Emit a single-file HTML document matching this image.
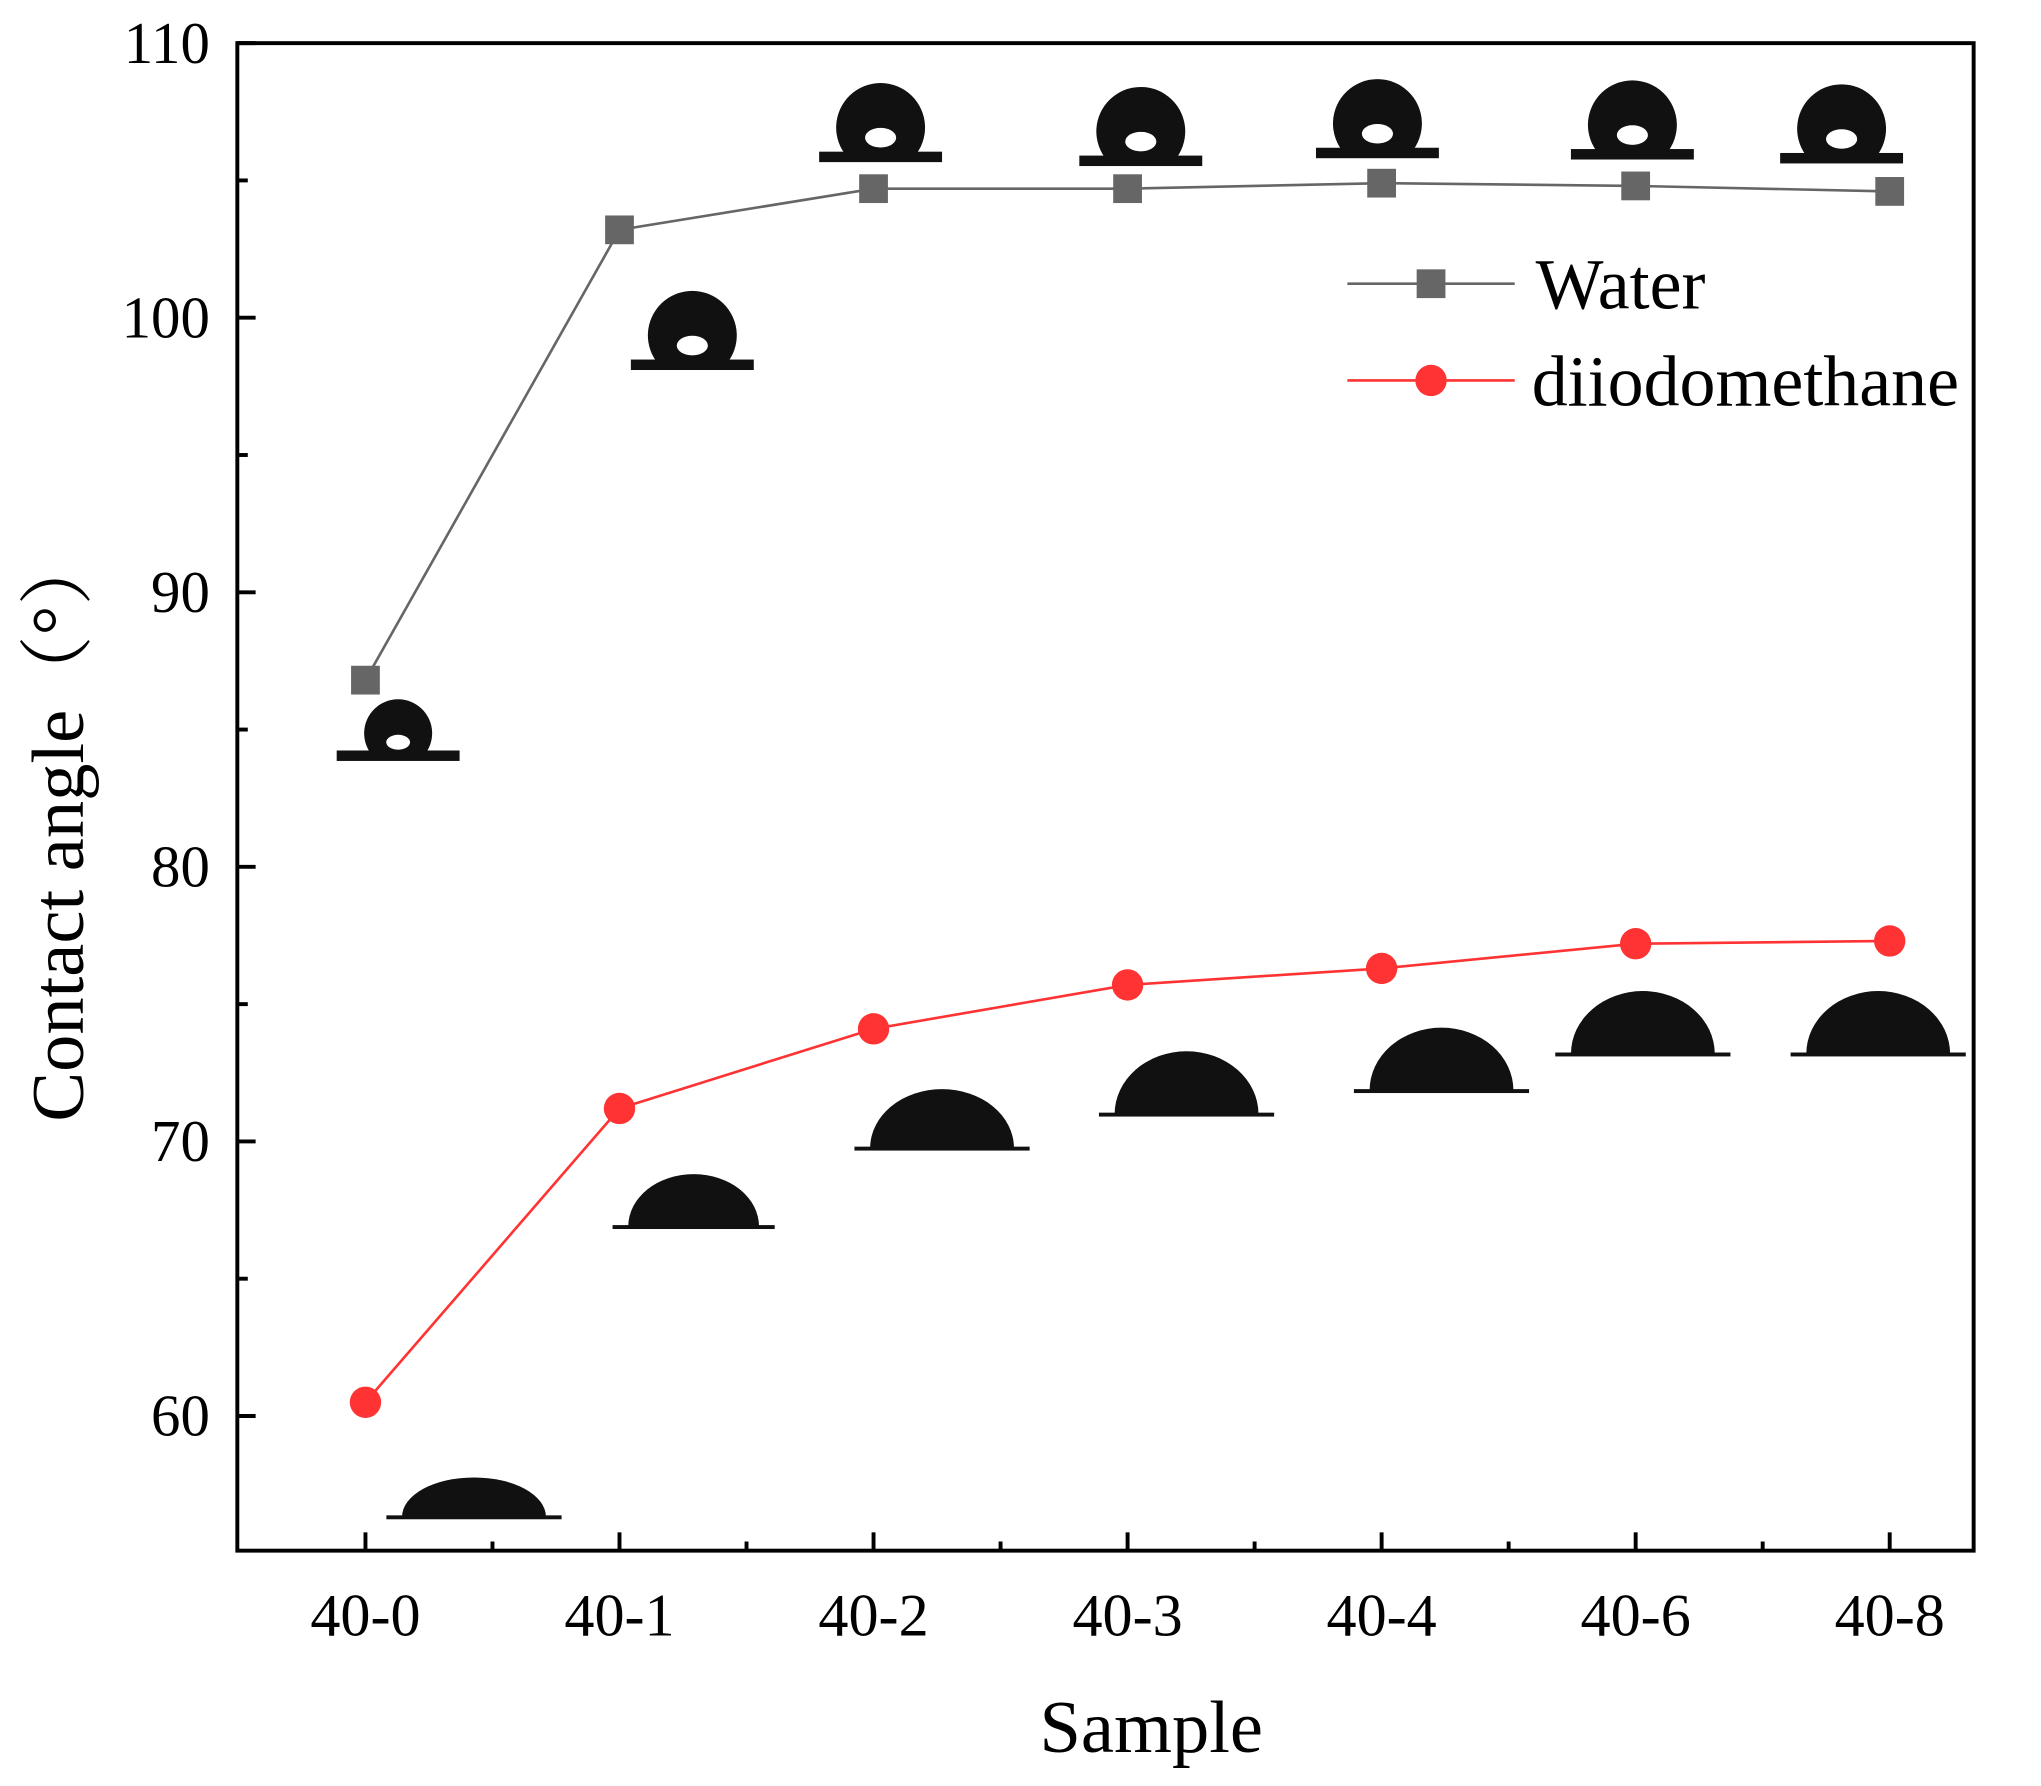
<!DOCTYPE html>
<html><head><meta charset="utf-8"><style>
html,body{margin:0;padding:0;background:#fff;}
svg{display:block;}
text{font-family:"Liberation Serif","Noto Serif CJK SC",serif;fill:#000;}
</style></head><body>
<svg id="chart" width="2041" height="1786" viewBox="0 0 1560 1366" xmlns="http://www.w3.org/2000/svg">
<g id="drops"></g>
<rect x="181" y="33" width="1328" height="1153" fill="none" stroke="#000" stroke-width="3"/>
<g id="axes"></g>
<g id="series"></g>
<g>
 <line x1="1030" y1="217" x2="1158" y2="217" stroke="#666" stroke-width="2"/>
 <rect x="1083" y="206" width="22" height="22" fill="#666"/>
 <text x="1174" y="236" font-size="55">Water</text>
 <line x1="1030" y1="291" x2="1158" y2="291" stroke="#f33" stroke-width="2"/>
 <circle cx="1094" cy="291" r="12" fill="#f33"/>
 <text x="1171" y="310" font-size="55">diiodomethane</text>
</g>
<text x="880" y="1340" font-size="57" text-anchor="middle">Sample</text>
<text transform="translate(63,632) rotate(-90)" font-size="57" text-anchor="middle">Contact angle（°）</text>
</svg>
<script>
const categories=["40-0","40-1","40-2","40-3","40-4","40-6","40-8"];
const waterValues=[86.8,103.2,104.7,104.7,104.9,104.8,104.6];
const diiodoValues=[60.5,71.2,74.1,75.7,76.3,77.2,77.3];
const yTicks=[60,70,80,90,100,110];
const NS="http://www.w3.org/2000/svg";
const X=i=>279+i*194.3;
const Y=v=>1188-(v-55)*21;
function mk(tag,attrs,parent){const e=document.createElementNS(NS,tag);for(const k in attrs)e.setAttribute(k,attrs[k]);parent.appendChild(e);return e;}
const ax=document.getElementById('axes');
categories.forEach((c,i)=>{
 mk('line',{x1:X(i),x2:X(i),y1:1186,y2:1172,stroke:'#000','stroke-width':3},ax);
 if(i<categories.length-1) mk('line',{x1:X(i+0.5),x2:X(i+0.5),y1:1186,y2:1179,stroke:'#000','stroke-width':3},ax);
 const t=mk('text',{x:X(i),y:1251,'font-size':46,'text-anchor':'middle'},ax);t.textContent=c;
 
 
});
for(let v=60;v<=105;v+=10) mk('line',{x1:181,x2:189,y1:Y(v+5),y2:Y(v+5),stroke:'#000','stroke-width':3},ax);
yTicks.forEach(v=>{
 mk('line',{x1:181,x2:195,y1:Y(v),y2:Y(v),stroke:'#000','stroke-width':3},ax);
 const t=mk('text',{x:160,y:Y(v)+15,'font-size':45,'text-anchor':'end'},ax);t.textContent=v;
 
 
});
const s=document.getElementById('series');
function line(vals,col){mk('polyline',{points:vals.map((v,i)=>X(i)+','+Y(v)).join(' '),fill:'none',stroke:col,'stroke-width':2},s);}
line(waterValues,'#666');line(diiodoValues,'#f33');
waterValues.forEach((v,i)=>{const r=mk('rect',{x:X(i)-11,y:Y(v)-11,width:22,height:22,fill:'#666'},s);
 
 });
diiodoValues.forEach((v,i)=>{const c=mk('circle',{cx:X(i),cy:Y(v),r:12,fill:'#f33'},s);
 
 });
const d=document.getElementById('drops');
const wd=[[304,582,26],[529,283,34],[673,124,34],[872,127,34],[1053,121,34],[1248,122,34],[1408,125,34]];
wd.forEach(([cx,by,r])=>{
 mk('rect',{x:cx-47,y:by-8,width:94,height:8,fill:'#111'},d);
 mk('path',{d:`M${cx-r*0.75},${by-4} A${r},${r} 0 1 1 ${cx+r*0.75},${by-4} Z`,fill:'#111'},d);
 mk('ellipse',{cx:cx,cy:by-r*0.55,rx:r*0.35,ry:r*0.22,fill:'#fff'},d);
});
const dd=[[362,1160,110,30],[530,938,100,40],[720,878,110,45],[907,852,110,48],[1102,834,110,48],[1256,806,110,48],[1436,806,110,48]];
dd.forEach(([cx,by,w,h])=>{
 mk('path',{d:`M${cx-w/2},${by} A${w/2},${h} 0 0 1 ${cx+w/2},${by} Z`,fill:'#111'},d);
 mk('rect',{x:cx-w/2-12,y:by-1,width:w+24,height:3,fill:'#111'},d);
});
</script>
</body></html>
